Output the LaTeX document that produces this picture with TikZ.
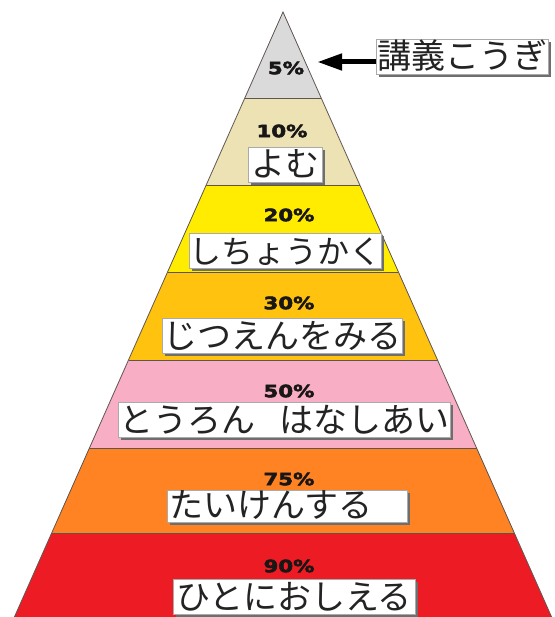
\documentclass[tikz,border=0pt]{standalone}
\usepackage{fontspec}
\newfontfamily\jp{Noto Sans CJK JP}
\newfontfamily\pct{DejaVu Sans}[FakeStretch=1.25, BoldFeatures={FakeBold=3}]
\usetikzlibrary{arrows.meta,shadows}
\definecolor{cgray}{RGB}{218,218,218}
\definecolor{ctan}{RGB}{237,226,180}
\definecolor{cyellow}{RGB}{255,236,0}
\definecolor{cgold}{RGB}{255,194,14}
\definecolor{cpink}{RGB}{248,174,196}
\definecolor{corange}{RGB}{255,130,35}
\definecolor{cred}{RGB}{237,28,36}
\definecolor{linegray}{RGB}{95,85,80}
\definecolor{pctcol}{RGB}{25,22,22}
\definecolor{shadowgray}{RGB}{110,110,110}
\definecolor{boxedge}{RGB}{170,170,170}
\definecolor{jptext}{RGB}{35,35,35}
\tikzset{
  layer/.style={draw=linegray, line width=0.8pt},
  pctlabel/.style={font=\pct\bfseries\fontsize{17}{17}\selectfont, text=pctcol, inner sep=0pt},
  jpbox/.style={fill=white, draw=boxedge, line width=0.4pt, text=jptext,
    font=\jp\fontsize{34}{38}\selectfont, inner xsep=1pt, inner ysep=0.5pt,
    text height=29pt, text depth=5pt,
    drop shadow={shadow xshift=2.5pt, shadow yshift=-2.5pt, fill=shadowgray, opacity=1}},
  pointer/.style={line width=5pt, draw=black, -{Triangle[length=25pt,width=16pt]}}
}
\begin{document}
\begin{tikzpicture}[x=1pt,y=-1pt]
\useasboundingbox (0,0) rectangle (554,617);
\clip (0,0) rectangle (554,617);
% layers
\fill[cgray]   (283,12) -- (321.2,98) -- (244.8,98) -- cycle;
\fill[ctan]    (244.8,98) -- (321.2,98) -- (359.8,185) -- (206.2,185) -- cycle;
\fill[cyellow] (206.2,185) -- (359.8,185) -- (398.4,272) -- (167.6,272) -- cycle;
\fill[cgold]   (167.6,272) -- (398.4,272) -- (437.5,360) -- (128.5,360) -- cycle;
\fill[cpink]   (128.5,360) -- (437.5,360) -- (476.6,448) -- (89.4,448) -- cycle;
\fill[corange] (89.4,448) -- (476.6,448) -- (514.3,533) -- (51.7,533) -- cycle;
\fill[cred]    (51.7,533) -- (514.3,533) -- (551.6,617) -- (14.4,617) -- cycle;
\draw[layer] (244.8,98) -- (321.2,98);
\draw[layer] (206.2,185) -- (359.8,185);
\draw[layer] (167.6,272) -- (398.4,272);
\draw[layer] (128.5,360) -- (437.5,360);
\draw[layer] (89.4,448) -- (476.6,448);
\draw[layer] (51.7,533) -- (514.3,533);
\draw[layer, line join=miter] (14.4,617) -- (283,12) -- (551.6,617);
% percentages
\node[pctlabel] (p5)  at (286,68)  {5\%};
\node[pctlabel] (p10) at (282,131) {10\%};
\node[pctlabel] (p20) at (289,215) {20\%};
\node[pctlabel] (p30) at (289,303) {30\%};
\node[pctlabel] (p50) at (289,391) {50\%};
\node[pctlabel] (p75) at (289,479) {75\%};
\node[pctlabel] (p90) at (289,566) {90\%};
% boxes
\node[jpbox, minimum width=172pt] (lec) at (462,57) {講義こうぎ};
\node[jpbox, minimum width=74pt] (b10) at (285,165) {よむ};
\node[jpbox, font=\jp\fontsize{32}{36}\selectfont, inner xsep=0pt] (b20) at (285,251) {しちょうかく};
\node[jpbox, minimum width=240pt] (b30) at (282,336) {じつえんをみる};
\node[jpbox, minimum width=331pt] (b50) at (284.5,420) {とうろん\hspace{24pt}はなしあい};
\node[jpbox, minimum width=240pt, align=left, text width=236pt, text height=27pt, text depth=4pt] (b75) at (287,506) {たいけんする};
\node[jpbox, minimum width=242pt] (b90) at (294,597) {ひとにおしえる};
% arrow
\draw[pointer, shorten >=13pt] ([yshift=-5pt]lec.west) -- ([yshift=-5pt]lec.west -| p5.east);
\end{tikzpicture}
\end{document}
